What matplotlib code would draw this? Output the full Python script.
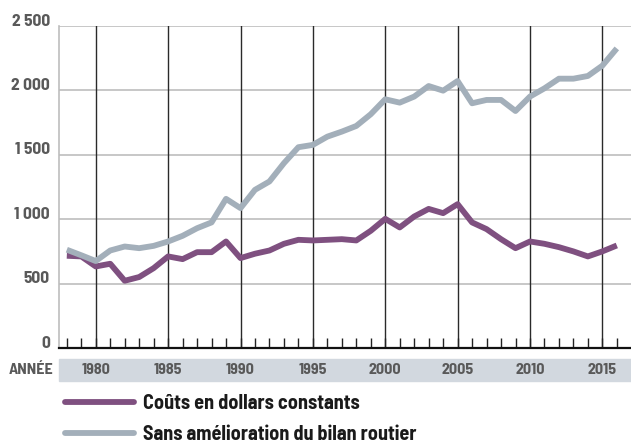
import matplotlib
matplotlib.use("Agg")
import matplotlib.pyplot as plt
from matplotlib.patches import Rectangle
from matplotlib.lines import Line2D

plt.rcParams['font.family'] = ['Barlow Semi Condensed', 'DejaVu Sans']

# donnees (millions de dollars)
annees = list(range(1978, 2017))
couts_constants = [716, 711, 633, 654, 522, 551, 620, 711, 690, 744,
                   744, 827, 698, 732, 757, 809, 840, 835, 840, 845,
                   835, 910, 1003, 936, 1021, 1080, 1047, 1117, 975, 923,
                   845, 775, 827, 809, 783, 750, 711, 750, 796]
sans_amelioration = [763, 720, 675, 757, 788, 775, 793, 827, 871, 930,
                     975, 1158, 1086, 1228, 1293, 1435, 1559, 1577, 1641, 1680,
                     1724, 1815, 1931, 1905, 1952, 2034, 1998, 2073, 1900, 1926,
                     1926, 1840, 1952, 2016, 2091, 2091, 2112, 2192, 2326]
noms_series = ["Coûts en dollars constants", "Sans amélioration du bilan routier"]
couleurs = ["#7f5080", "#a3afba"]
y_ticks = [0, 500, 1000, 1500, 2000, 2500]
y_labels = ["0", "500", "1 000", "1 500", "2 000", "2 500"]
x_majeurs = [1980, 1985, 1990, 1995, 2000, 2005, 2010, 2015]
gris_texte = "#595959"

W, H = 631, 445
fig = plt.figure(figsize=(W / 100, H / 100), dpi=100)
ax = fig.add_axes([59 / W, 1 - 348 / H, 1 - 59 / W, (348 - 26) / H])

for serie, nom, c in zip([couts_constants, sans_amelioration], noms_series, couleurs):
    ax.plot(annees, serie, color=c, lw=4.2, solid_joinstyle='round',
            solid_capstyle='butt', label=nom, zorder=3)

ax.set_xlim(1977.46, 2016.98)
ax.set_ylim(0, 2500)

# quadrillage
for v in y_ticks[1:]:
    ax.axhline(v, color="#bdbdbd", lw=1.2, zorder=1)
for x in x_majeurs:
    ax.axvline(x, color="#2a2a2a", lw=1.0, zorder=1)

ax.set_yticks(y_ticks)
ax.set_yticklabels([])
ax.set_xticks(annees)
ax.set_xticklabels([])
ax.tick_params(axis='x', direction='in', length=7, width=1, color="#222222")
ax.tick_params(axis='y', length=0)

for s in ['top', 'right']:
    ax.spines[s].set_visible(False)
ax.spines['left'].set_color("#bdbdbd")
ax.spines['left'].set_linewidth(1.2)
ax.spines['bottom'].set_color("#111111")
ax.spines['bottom'].set_linewidth(1.6)

# etiquettes de l'axe des y
for v, t in zip(y_ticks, y_labels):
    ax.annotate(t, xy=(0, v), xycoords=('axes fraction', 'data'),
                xytext=(-9, 5), textcoords='offset pixels',
                ha='right', va='center', fontsize=12.5, fontweight='bold',
                color=gris_texte, annotation_clip=False)

# bande grise des annees
fig.patches.append(Rectangle((59 / W, 1 - 381 / H), 1 - 59 / W, 22 / H,
                             transform=fig.transFigure, color="#d2d8df",
                             zorder=-5))
fig.text(9 / W, 1 - 370 / H, "ANNÉE", ha='left', va='center', fontsize=11.5,
         fontweight='bold', color=gris_texte)
for x in x_majeurs:
    ax.annotate(str(x), xy=(x, 0), xycoords=('data', 'axes fraction'),
                xytext=(0, -22), textcoords='offset pixels',
                ha='center', va='center', fontsize=11.5, fontweight='bold',
                color=gris_texte, annotation_clip=False)

poignees = [Line2D([], [], color=c, lw=4.2, solid_capstyle='round') for c in couleurs]
fig.legend(handles=poignees, labels=noms_series, loc='upper left',
           bbox_to_anchor=(65 / W, 1 - 394 / H), frameon=False,
           handlelength=3.43, handletextpad=0.45, labelspacing=0.62,
           borderpad=0, borderaxespad=0, labelcolor="#1a1a1a",
           prop={'family': ['Barlow Semi Condensed'], 'weight': 'bold', 'size': 14.5})

fig.savefig("out.png", dpi=100)
